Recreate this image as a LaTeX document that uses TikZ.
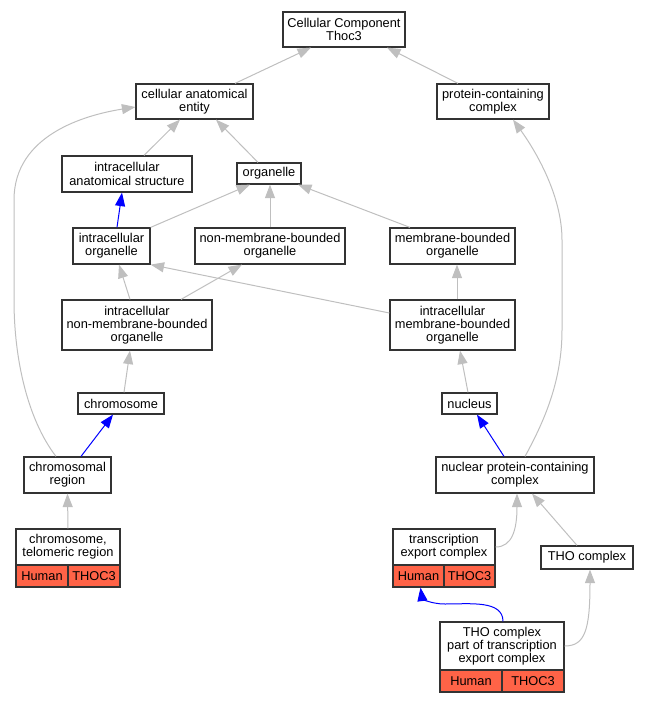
\documentclass[tikz,border=0pt]{standalone}
\usepackage{fontspec}
\setmainfont{Liberation Sans}
\usetikzlibrary{calc}
\usetikzlibrary{shapes,arrows,arrows.meta,positioning}
\definecolor{tomato}{HTML}{FF6347}

\begin{document}
\begin{tikzpicture}[x=1pt,y=-1pt,
     block/.style = {draw=black!80, line width=1.2pt, rectangle, fill=white, align=center,
      inner sep=0pt, font=\fontsize{12.8}{13.3}\selectfont},
     gene/.style = {block, fill=tomato, minimum height=22pt},
     isa/.style={draw=lightgray, line width=1pt, -{Triangle[width=10pt,length=13.5pt]}},
     partof/.style={isa, draw=blue}
    ]
    \useasboundingbox (0,0) rectangle (648,704);

    \node [block, minimum width=122pt, minimum height=35pt] (root) at (344,29.5) {Cellular Component\\Thoc3};
    \node [block, minimum width=117pt, minimum height=35pt] (cae) at (194.5,101.5) {cellular anatomical\\entity};
    \node [block, minimum width=112pt, minimum height=35pt] (pcc) at (493,101.5) {protein-containing\\complex};
    \node [block, minimum width=130pt, minimum height=36pt] (ias) at (127,174) {intracellular\\anatomical structure};
    \node [block, minimum width=64pt, minimum height=21pt] (org) at (269,173.5) {organelle};
    \node [block, minimum width=77pt, minimum height=36pt] (io) at (111.5,246) {intracellular\\organelle};
    \node [block, minimum width=150pt, minimum height=36pt] (nmbo) at (270,246) {non-membrane-bounded\\organelle};
    \node [block, minimum width=125pt, minimum height=36pt] (mbo) at (452.5,246) {membrane-bounded\\organelle};
    \node [block, minimum width=150pt, minimum height=50pt] (inmbo) at (137,325) {intracellular\\non-membrane-bounded\\organelle};
    \node [block, minimum width=125pt, minimum height=50pt] (imbo) at (452.5,325) {intracellular\\membrane-bounded\\organelle};
    \node [block, minimum width=86pt, minimum height=21pt] (chrom) at (121,403.5) {chromosome};
    \node [block, minimum width=55pt, minimum height=21pt] (nucleus) at (469.5,403.5) {nucleus};
    \node [block, minimum width=87pt, minimum height=36pt] (chromreg) at (67.5,475) {chromosomal\\region};
    \node [block, minimum width=158pt, minimum height=36pt] (npcc) at (515,475) {nuclear protein-containing\\complex};
    \node [block, minimum width=92pt, minimum height=23pt] (tho) at (587,557.5) {THO complex};

    \node [block, minimum width=104pt, minimum height=36pt] (ctr) at (68,547) {chromosome,\\telomeric region};
    \node [gene, minimum width=52pt] (ctrH) at (42,576) {Human};
    \node [gene, minimum width=52pt] (ctrG) at (94,576) {THOC3};

    \node [block, minimum width=102pt, minimum height=36pt] (tec) at (444,547) {transcription\\export complex};
    \node [gene, minimum width=51pt] (tecH) at (418.5,576) {Human};
    \node [gene, minimum width=51pt] (tecG) at (469.5,576) {THOC3};

    \node [block, minimum width=124pt, minimum height=48pt] (thop) at (502,646) {THO complex\\part of transcription\\export complex};
    \node [gene, minimum width=62pt] (thopH) at (471,681) {Human};
    \node [gene, minimum width=62pt] (thopG) at (533,681) {THOC3};

    \draw [isa] ([xshift=40.5pt]cae.north) -- ([xshift=-33pt]root.south);
    \draw [isa] ([xshift=-35pt]pcc.north) -- ([xshift=43pt]root.south);
    \draw [isa] ([xshift=17pt]ias.north) -- ([xshift=-14.5pt]cae.south);
    \draw [isa] ([xshift=-11pt]org.north) -- ([xshift=21.5pt]cae.south);
    \draw [partof] ([xshift=5.5pt]io.north) -- ([xshift=-5pt]ias.south);
    \draw [isa] (io.north east) -- ([xshift=-19pt]org.south);
    \draw [isa] (nmbo.north) -- (nmbo.north |- org.south);
    \draw [isa] ([xshift=-42.5pt]mbo.north) -- ([xshift=29pt]org.south);
    \draw [isa] ([xshift=-7pt]inmbo.north) -- ([xshift=7.5pt]io.south);
    \draw [isa] ([xshift=44pt]inmbo.north) -- ([xshift=-28pt]nmbo.south);
    \draw [isa] ([yshift=12pt]imbo.west) -- (io.south east);
    \draw [isa] ([xshift=4.5pt]imbo.north) -- ([xshift=4.5pt]mbo.south);
    \draw [isa] ([xshift=3pt]chrom.north) -- ([xshift=-7pt]inmbo.south);
    \draw [isa] ([xshift=-1.5pt]nucleus.north) -- ([xshift=7.5pt]imbo.south);
    \draw [partof] ([xshift=13.5pt]chromreg.north) -- ([xshift=-8pt]chrom.south);
    \draw [isa] ([xshift=-11.5pt]chromreg.north) .. controls (28,420) and (14,360) .. (14,300)
      -- (14,200) .. controls (14,135) and (85,115) .. ([yshift=-5.5pt]cae.west);
    \draw [partof] ([xshift=-11pt]npcc.north) -- ([xshift=7.5pt]nucleus.south);
    \draw [isa] ([xshift=10pt]npcc.north) .. controls (545,420) and (562,380) .. (562,330)
      -- (562,240) .. controls (562,195) and (535,150) .. ([xshift=20pt]pcc.south);
    \draw [isa] (ctr.north) -- (chromreg.south);
    \draw [isa] (tec.east) .. controls (512,547) and (517,530) .. ([xshift=2pt]npcc.south);
    \draw [isa] ([xshift=-10pt]tho.north) -- ([xshift=17pt]npcc.south);
    \draw [isa] (thop.east) .. controls (585,646) and (590,630) .. ([xshift=3pt]tho.south);
    \draw [partof] ([xshift=1pt]thop.north) .. controls (503,600) and (470,604) .. (445,604)
      .. controls (430,604) and (422,598) .. ([xshift=2pt]tecH.south);
\end{tikzpicture}
\end{document}
